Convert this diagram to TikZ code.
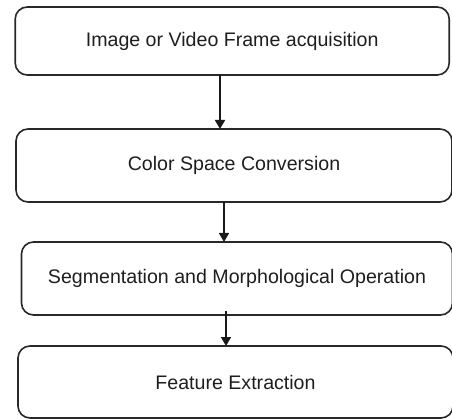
\documentclass[tikz,border=0pt]{standalone}
\usepackage{fontspec}
\setmainfont{Liberation Sans}
\definecolor{boxline}{RGB}{40, 40, 40}
\definecolor{boxtext}{RGB}{30, 30, 30}
\usetikzlibrary{arrows.meta, positioning}

\begin{document}
\begin{tikzpicture}[x=1pt, y=-1pt,
    stage/.style={draw=boxline, line width=1.6pt, rounded corners=12pt, outer sep=0pt,
      text=boxtext, font=\fontsize{19.6}{23}\selectfont},
    flow/.style={draw=black!90, line width=1.7pt, -{Triangle[length=9pt, width=10pt]}}]
  \useasboundingbox (0,0) rectangle (452,419);

  \node[stage, minimum width=434pt, minimum height=68pt] (acq) at (232.2,41) {Image or Video Frame acquisition};
  \node[stage, minimum width=436pt, minimum height=73pt] (conv) at (234,165.5) {Color Space Conversion};
  \node[stage, minimum width=431pt, minimum height=73pt] (seg) at (237,278.5) {Segmentation and Morphological Operation};
  \node[stage, minimum width=435pt, minimum height=72pt] (feat) at (235.5,382) {Feature Extraction};

  \draw[flow] (220,0 |- acq.south) -- (220,0 |- conv.north);
  \draw[flow] (224,0 |- conv.south) -- (224,0 |- seg.north);
  \draw[flow] (226,311) -- (226,0 |- feat.north);
\end{tikzpicture}
\end{document}
